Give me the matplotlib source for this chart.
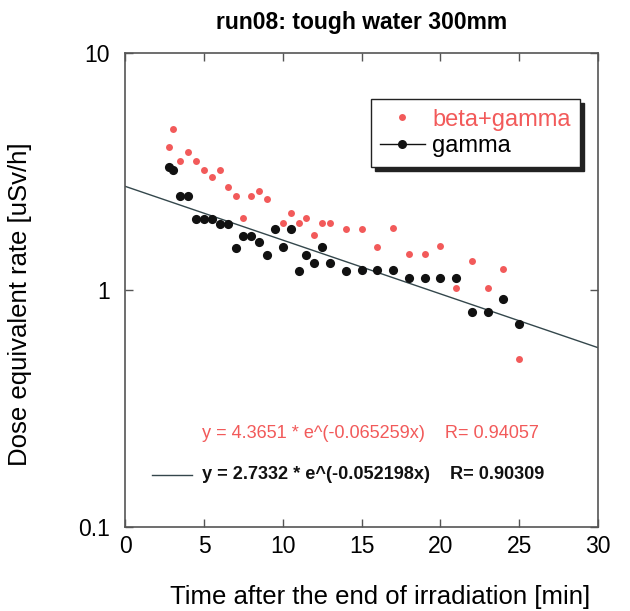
import numpy as np
import matplotlib
matplotlib.use("Agg")
import matplotlib.pyplot as plt
from matplotlib.lines import Line2D

plt.rcParams['font.family'] = ['Liberation Sans', 'DejaVu Sans']

# beta+gamma
bg_t = [2.75, 3.0, 3.5, 4.0, 4.5, 5.0, 5.5, 6.0, 6.5, 7.0, 7.5, 8.0, 8.5, 9.0,
        10.0, 10.5, 11.0, 11.5, 12.0, 12.5, 13.0, 14, 15, 16, 17, 18, 19, 20,
        21, 22, 23, 24, 25]
bg_v = [4.0, 4.79, 3.5, 3.81, 3.5, 3.21, 2.99, 3.21, 2.72, 2.5, 2.01, 2.5, 2.61, 2.41,
        1.91, 2.12, 1.91, 2.01, 1.71, 1.91, 1.91, 1.81, 1.81, 1.52, 1.82, 1.42, 1.42, 1.53,
        1.02, 1.32, 1.02, 1.23, 0.51]
# gamma
g_t = [2.75, 3.0, 3.5, 4.0, 4.5, 5.0, 5.5, 6.0, 6.5, 7.0, 7.5, 8.0, 8.5, 9.0, 9.5,
       10.0, 10.5, 11.0, 11.5, 12.0, 12.5, 13.0, 14, 15, 16, 17, 18, 19, 20, 21,
       22, 23, 24, 25]
g_v = [3.31, 3.20, 2.49, 2.49, 1.99, 1.99, 1.99, 1.90, 1.90, 1.50, 1.69, 1.69, 1.60, 1.40, 1.80,
       1.51, 1.80, 1.20, 1.40, 1.30, 1.51, 1.30, 1.20, 1.21, 1.21, 1.21, 1.12, 1.12, 1.12, 1.12,
       0.81, 0.81, 0.92, 0.72]

fit_a, fit_b = 2.7332, 0.052198
red_eq = "y = 4.3651 * e^(-0.065259x)    R= 0.94057"
blk_eq = "y = 2.7332 * e^(-0.052198x)    R= 0.90309"

RED = '#f25a5a'
LINE = '#34474c'

fig = plt.figure(figsize=(6.3, 6.11), dpi=100)
ax = fig.add_axes([0.199, 0.1375, 0.750, 0.776])

ax.plot(bg_t, bg_v, 'o', color=RED, markersize=5.0, markeredgewidth=0, zorder=3)
ax.plot(g_t, g_v, 'o', color='#111111', markersize=6.6, markeredgewidth=0, zorder=4)
xf = np.linspace(0, 30, 100)
ax.plot(xf, fit_a * np.exp(-fit_b * xf), color=LINE, lw=1.0, zorder=2)

ax.set_yscale('log')
ax.set_xlim(0, 30)
ax.set_ylim(0.1, 10)
ax.set_xticks([0, 5, 10, 15, 20, 25, 30])
ax.set_yticks([0.1, 1, 10])
ax.set_yticklabels(['0.1', '1', '10'])
ax.yaxis.set_minor_locator(matplotlib.ticker.NullLocator())
ax.tick_params(direction='in', top=True, right=True, labelsize=16.5, length=6,
               width=1, color='#555555', pad=6)
ax.tick_params(axis='y', pad=11)
for s in ax.spines.values():
    s.set_color('#555555')
    s.set_linewidth(1.2)

ax.set_title('run08: tough water 300mm', fontsize=16.5, fontweight='bold', pad=17)
ax.set_xlabel('Time after the end of irradiation [min]', fontsize=18.5, labelpad=19, x=0.54)
ax.set_ylabel('Dose equivalent rate [uSv/h]', fontsize=18.5, labelpad=33, y=0.47)

handles = [Line2D([], [], ls='none', marker='o', color=RED, markersize=5, markeredgewidth=0),
           Line2D([], [], ls='-', lw=1, marker='o', color='#111111', markersize=6.5, markeredgewidth=0)]
leg = ax.legend(handles, ['beta+gamma', 'gamma'], loc='upper left',
                bbox_to_anchor=(0.519, 0.902), fontsize=17, frameon=True,
                fancybox=False, shadow={'color': '#222222', 'alpha': 1, 'ox': 3, 'oy': -3},
                edgecolor='#222222', borderpad=0.4, handlelength=1.9,
                handletextpad=0.3, labelspacing=0.2, borderaxespad=0)
leg.get_frame().set_linewidth(1.0)
leg.get_texts()[0].set_color(RED)

ax.text(0.162, 0.198, red_eq, transform=ax.transAxes, color=RED, fontsize=13.1,
        va='center', ha='left')
ax.plot([0.056, 0.140], [0.110, 0.110], transform=ax.transAxes, color=LINE, lw=1)
ax.text(0.162, 0.110, blk_eq, transform=ax.transAxes, color='#111111', fontsize=13.1,
        fontweight='bold', va='center', ha='left')

fig.savefig('out.png', dpi=100)
